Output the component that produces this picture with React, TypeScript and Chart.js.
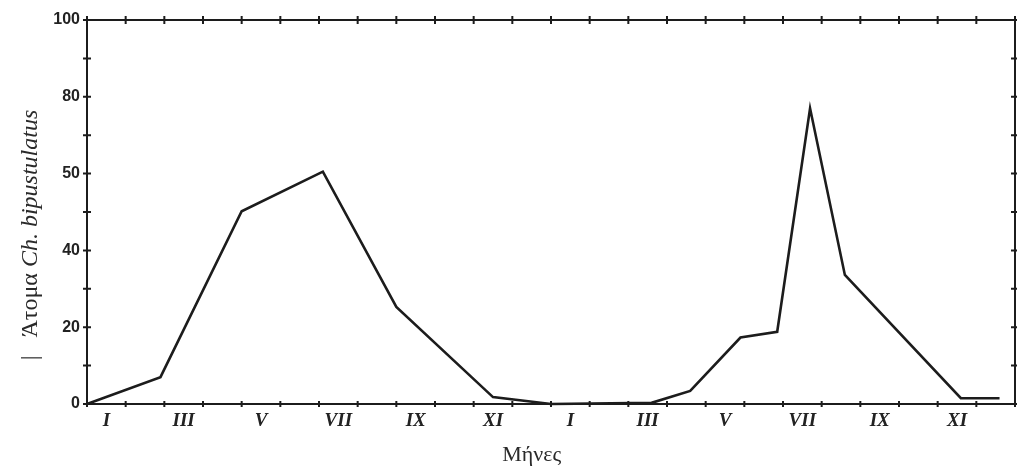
import React, { useEffect, useRef } from "react";
import { Chart, registerables } from "chart.js";

Chart.register(...registerables);

// Data (months counted from January of the first year; 24 months shown)
const monthPositions = [0, 1.9, 4.0, 6.1, 8.0, 10.5, 12.0, 14.6, 15.6, 16.9, 17.85, 18.7, 19.6, 22.6, 23.6];
const individuals = [0, 7, 50.2, 60.5, 25.3, 1.8, 0, 0.3, 3.4, 17.3, 18.8, 77, 33.6, 1.5, 1.5];

const monthLabels = ["I", "III", "V", "VII", "IX", "XI", "I", "III", "V", "VII", "IX", "XI"];
const monthLabelPositions = [0.5, 2.5, 4.5, 6.5, 8.5, 10.5, 12.5, 14.5, 16.5, 18.5, 20.5, 22.5];

const yTickValues = [0, 20, 40, 60, 80, 100];
const yTickLabels = ["0", "20", "40", "50", "80", "100"];

const yTitleUpright = "|   Άτομα ";
const yTitleItalic = "Ch. bipustulatus";
const xTitle = "Μήνες";

const INK = "#1c1c1c";

const framePlugin = {
  id: "frameAndTitles",
  afterDraw(chart: any) {
    const { ctx, chartArea, scales } = chart;
    const xs = scales.x;
    const ys = scales.y;
    const { left, right, top, bottom } = chartArea;
    ctx.save();
    ctx.strokeStyle = INK;
    ctx.lineWidth = 2;
    ctx.beginPath();
    ctx.rect(left, top, right - left, bottom - top);
    ctx.stroke();

    // month tick marks top & bottom, value ticks left & right
    ctx.beginPath();
    for (let m = 0; m <= 24; m++) {
      const px = xs.getPixelForValue(m);
      ctx.moveTo(px, top - 4);
      ctx.lineTo(px, top + 4);
      ctx.moveTo(px, bottom - 3);
      ctx.lineTo(px, bottom + 3);
    }
    for (let v = 0; v <= 100; v += 10) {
      const py = ys.getPixelForValue(v);
      ctx.moveTo(left - 4, py);
      ctx.lineTo(left + 4, py);
      ctx.moveTo(right - 4, py);
      ctx.lineTo(right + 2, py);
    }
    ctx.stroke();

    // y axis title (rotated)
    const cy = (top + bottom) / 2 + 23;
    ctx.translate(31, cy);
    ctx.rotate(-Math.PI / 2);
    ctx.fillStyle = "#2a2a2a";
    ctx.textBaseline = "middle";
    ctx.textAlign = "left";
    const fUp = "24px 'Liberation Serif'";
    const fIt = "italic 24px 'Liberation Serif'";
    ctx.font = fUp;
    const w1 = ctx.measureText(yTitleUpright).width;
    ctx.font = fIt;
    const w2 = ctx.measureText(yTitleItalic).width;
    const start = -(w1 + w2) / 2;
    ctx.font = fUp;
    ctx.fillText(yTitleUpright, start, 0);
    ctx.font = fIt;
    ctx.fillText(yTitleItalic, start + w1, 0);
    ctx.restore();

    // x axis title
    ctx.save();
    ctx.fillStyle = "#2a2a2a";
    ctx.font = "22px 'Liberation Serif'";
    ctx.textAlign = "center";
    ctx.textBaseline = "middle";
    ctx.fillText(xTitle, xs.getPixelForValue(11.5), 455);
    ctx.restore();
  },
};

export default function App() {
  const ref = useRef<HTMLCanvasElement | null>(null);

  useEffect(() => {
    if (!ref.current) return;
    const points = monthPositions.map((m, i) => ({ x: m, y: individuals[i] }));
    const chart = new Chart(ref.current, {
      type: "line",
      data: {
        datasets: [
          {
            data: points,
            borderColor: INK,
            borderWidth: 2.6,
            pointRadius: 0,
            tension: 0,
            fill: false,
            clip: 6,
          },
        ],
      },
      options: {
        animation: false,
        responsive: false,
        events: [],
        layout: { padding: { left: 0, right: 5, top: 20, bottom: 0 } },
        plugins: {
          legend: { display: false },
          tooltip: { enabled: false },
          title: { display: false },
        },
        scales: {
          x: {
            type: "linear",
            min: 0,
            max: 24,
            position: "bottom",
            afterBuildTicks: (scale: any) => {
              scale.ticks = monthLabelPositions.map((v) => ({ value: v }));
            },
            afterFit: (scale: any) => {
              scale.height = 67;
            },
            ticks: {
              autoSkip: false,
              maxRotation: 0,
              padding: 6,
              color: "#222",
              font: { family: "'Liberation Serif'", size: 19, weight: "bold", style: "italic" },
              callback: (_v: any, i: number) => monthLabels[i],
            },
            grid: { display: false, drawTicks: false },
            border: { display: false },
          },
          y: {
            type: "linear",
            min: 0,
            max: 100,
            afterBuildTicks: (scale: any) => {
              scale.ticks = yTickValues.map((v) => ({ value: v }));
            },
            afterFit: (scale: any) => {
              scale.width = 87;
            },
            ticks: {
              padding: 7,
              color: "#222",
              font: { family: "'Liberation Sans'", size: 16, weight: "bold" },
              callback: (_v: any, i: number) => yTickLabels[i],
            },
            grid: { display: false, drawTicks: false },
            border: { display: false },
          },
        },
      },
      plugins: [framePlugin],
    });
    return () => chart.destroy();
  }, []);

  return (
    <div style={{ position: "fixed", left: 0, top: 0, width: 1020, height: 471, background: "#fff" }}>
      <canvas ref={ref} width={1020} height={471} style={{ display: "block" }} />
    </div>
  );
}
